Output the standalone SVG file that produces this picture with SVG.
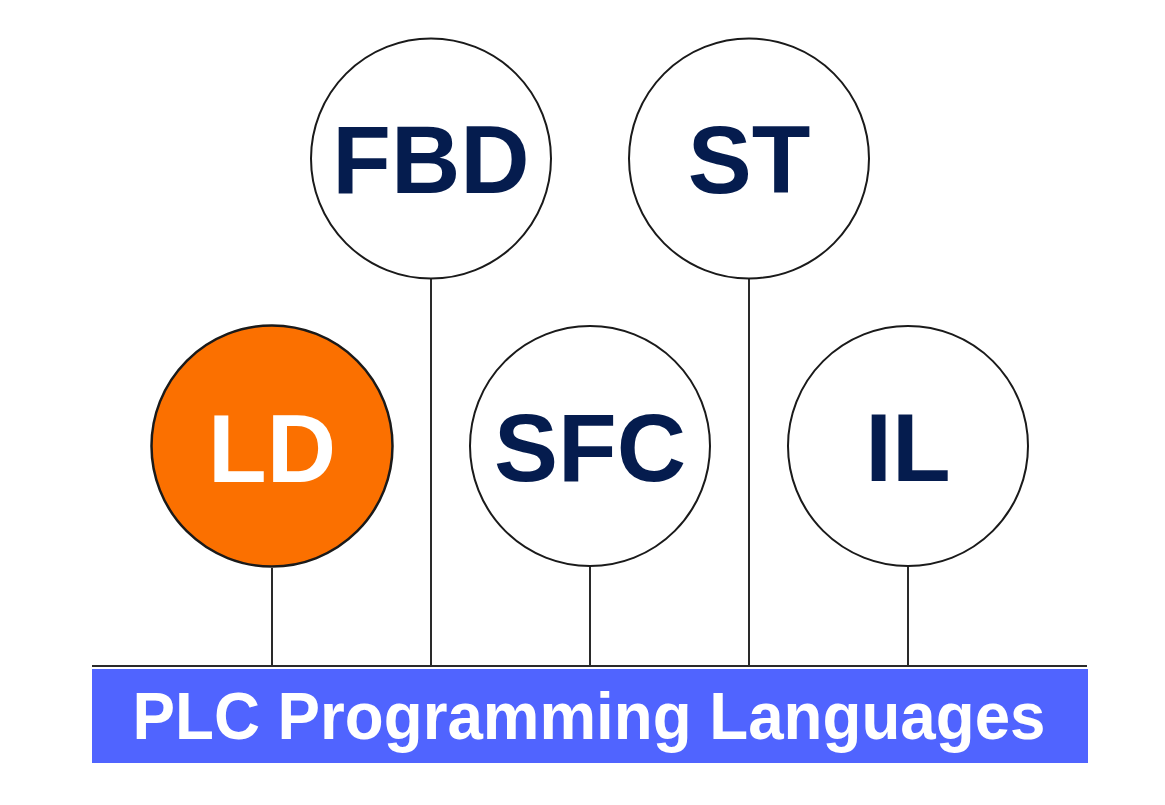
<svg xmlns="http://www.w3.org/2000/svg" width="1165" height="805" viewBox="0 0 1165 805">
<style>
.node circle{fill:#fff;stroke:#1a1a1a;stroke-width:2}
.node text{font-family:"Liberation Sans",Arial,sans-serif;font-weight:bold;font-size:96px;fill:#051c4e;text-anchor:middle}
.conn line{stroke:#2a2a2a;stroke-width:2}
</style>
<rect width="1165" height="805" fill="#fff"/>
<g class="conn">
<line x1="92" y1="666" x2="1087" y2="666"/>
<line x1="272" y1="568" x2="272" y2="666"/>
<line x1="431" y1="279" x2="431" y2="666"/>
<line x1="590" y1="566" x2="590" y2="666"/>
<line x1="749" y1="279" x2="749" y2="666"/>
<line x1="908" y1="566" x2="908" y2="666"/>
</g>
<g id="ld" class="node"><circle cx="272" cy="446" r="120.5" style="fill:#fb7000;stroke-width:2.5"/><text x="272" y="482" style="fill:#fff">LD</text></g>
<g id="fbd" class="node"><circle cx="431" cy="158.5" r="120"/><text x="431" y="193">FBD</text></g>
<g id="st" class="node"><circle cx="749" cy="158.5" r="120"/><text x="749" y="193">ST</text></g>
<g id="sfc" class="node"><circle cx="590" cy="446" r="120"/><text x="590" y="481">SFC</text></g>
<g id="il" class="node"><circle cx="908" cy="446" r="120"/><text x="908" y="481">IL</text></g>
<g id="title"><rect x="92" y="669" width="996" height="94" fill="#5064ff"/><text x="589" y="739" font-family="Liberation Sans,Arial,sans-serif" font-weight="bold" font-size="66" fill="#fff" text-anchor="middle" textLength="913" lengthAdjust="spacingAndGlyphs">PLC Programming Languages</text></g>
</svg>
